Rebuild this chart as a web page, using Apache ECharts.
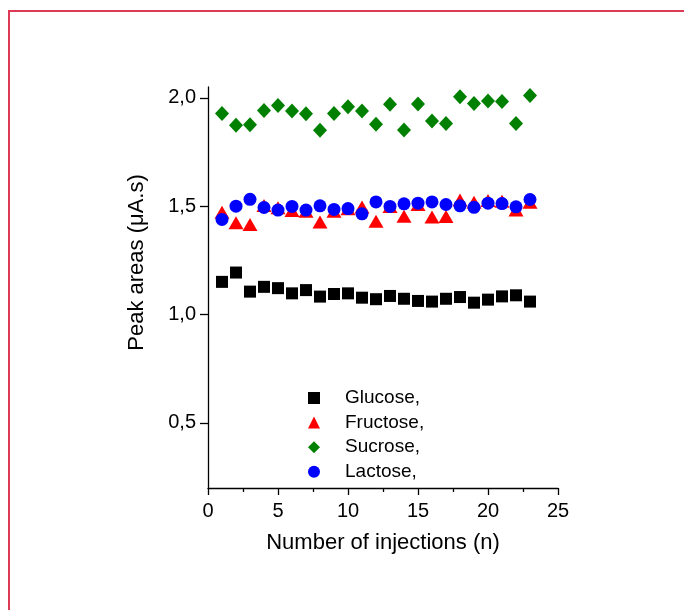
<!DOCTYPE html>
<html>
<head>
<meta charset="utf-8">
<script src="https://cdn.jsdelivr.net/npm/echarts@6/dist/echarts.min.js"></script>
<style>
  html, body { margin: 0; padding: 0; background: #fff; }
  #wrap { position: relative; width: 684px; height: 610px; overflow: hidden; }
  #frame { position: absolute; left: 8px; top: 10px; width: 800px; height: 800px;
           border-top: 2px solid #dc3a55; border-left: 2px solid #dc3a55; }
  #chart { position: absolute; left: 0; top: 0; width: 684px; height: 610px; }
</style>
</head>
<body>
<div id="wrap">
  <div id="frame"></div>
  <div id="chart"></div>
</div>
<script>
  const injections = [1, 2, 3, 4, 5, 6, 7, 8, 9, 10, 11, 12, 13, 14, 15, 16, 17, 18, 19, 20, 21, 22, 23];

  const glucose = [1.151, 1.194, 1.106, 1.128, 1.122, 1.098, 1.113, 1.083, 1.095, 1.098, 1.078, 1.071,
    1.086, 1.073, 1.063, 1.060, 1.073, 1.081, 1.055, 1.069, 1.084, 1.089, 1.060];
  const fructose = [1.472, 1.424, 1.416, 1.503, 1.493, 1.480, 1.477, 1.427, 1.477, 1.488, 1.496, 1.431,
    1.499, 1.454, 1.508, 1.450, 1.453, 1.529, 1.518, 1.526, 1.523, 1.483, 1.518];
  const sucrose = [1.928, 1.873, 1.876, 1.942, 1.965, 1.939, 1.927, 1.850, 1.928, 1.959, 1.939, 1.878,
    1.970, 1.852, 1.971, 1.893, 1.882, 2.005, 1.974, 1.985, 1.983, 1.882, 2.011];
  const lactose = [1.439, 1.500, 1.532, 1.494, 1.482, 1.499, 1.482, 1.502, 1.485, 1.489, 1.465, 1.520,
    1.499, 1.511, 1.514, 1.520, 1.508, 1.502, 1.495, 1.514, 1.512, 1.497, 1.531];

  const yTickValues = [0.5, 1.0, 1.5, 2.0];
  const seriesNames = ["Glucose,", "Fructose,", "Sucrose,", "Lactose,"];

  const font = "Liberation Sans, Arial, sans-serif";

  function pairs(values) {
    return values.map((v, i) => [injections[i], v]);
  }

  const chart = echarts.init(document.getElementById("chart"), null, { renderer: "canvas" });

  chart.setOption({
    backgroundColor: "transparent",
    animation: false,
    textStyle: { fontFamily: font, color: "#000" },
    grid: { left: 208, right: 126, top: 87, bottom: 122, outerBoundsMode: "none" },
    legend: {
      data: seriesNames,
      orient: "vertical",
      left: 308,
      top: 388.5,
      padding: 0,
      itemWidth: 12,
      itemHeight: 12,
      itemGap: 5.6,
      textStyle: { fontFamily: font, fontSize: 19, color: "#000", padding: [0, 0, 0, 20] },
    },
    xAxis: {
      type: "value",
      min: 0,
      max: 25,
      interval: 5,
      name: "Number of injections (n)",
      nameLocation: "middle",
      nameGap: 44,
      nameTextStyle: { fontFamily: font, fontSize: 22, color: "#000" },
      axisLine: { show: true, onZero: false, lineStyle: { color: "#000", width: 1.3 } },
      axisTick: { show: true, length: 7, lineStyle: { color: "#000", width: 1.3 } },
      minorTick: { show: true, splitNumber: 2, length: 4, lineStyle: { color: "#000", width: 1.3 } },
      axisLabel: { fontFamily: font, fontSize: 20, color: "#000", margin: 13 },
      splitLine: { show: false },
    },
    yAxis: {
      type: "value",
      min: 0.2,
      max: 2.05,
      name: "Peak areas (\u03bcA.s)",
      nameLocation: "middle",
      nameGap: 60,
      nameTextStyle: { fontFamily: font, fontSize: 22, color: "#000", padding: [0, 0, 0, 50] },
      axisLine: { show: true, onZero: false, lineStyle: { color: "#000", width: 1.3 } },
      axisTick: { show: true, length: 8, customValues: yTickValues, lineStyle: { color: "#000", width: 1.3 } },
      axisLabel: {
        fontFamily: font,
        fontSize: 20,
        color: "#000",
        margin: 12,
        customValues: yTickValues,
        formatter: (v) => v.toFixed(1).replace(".", ","),
      },
      splitLine: { show: false },
    },
    series: [
      {
        name: seriesNames[0],
        type: "scatter",
        symbol: "rect",
        symbolSize: 12,
        itemStyle: { color: "#000000", opacity: 1 },
        data: pairs(glucose),
      },
      {
        name: seriesNames[1],
        type: "scatter",
        symbol: "triangle",
        symbolSize: [15, 13],
        itemStyle: { color: "#ff0000", opacity: 1 },
        data: pairs(fructose),
      },
      {
        name: seriesNames[2],
        type: "scatter",
        symbol: "diamond",
        symbolSize: [14, 15],
        itemStyle: { color: "#008000", opacity: 1 },
        data: pairs(sucrose),
      },
      {
        name: seriesNames[3],
        type: "scatter",
        symbol: "circle",
        symbolSize: 13,
        itemStyle: { color: "#0000ff", opacity: 1 },
        data: pairs(lactose),
      },
    ],
  });
</script>
</body>
</html>
